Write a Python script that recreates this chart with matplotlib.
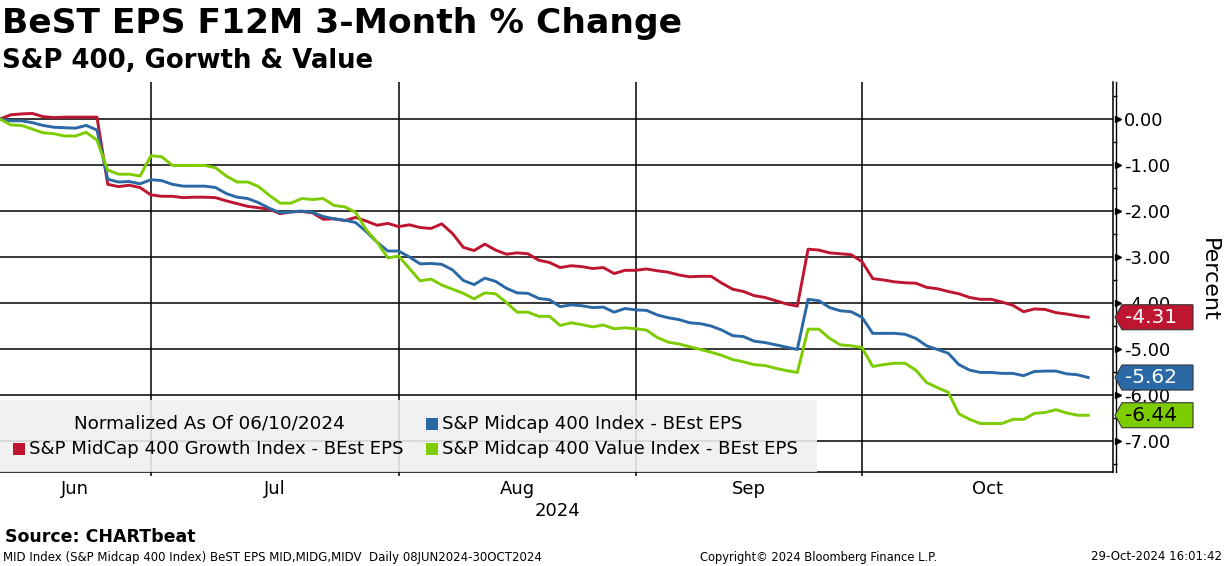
import numpy as np
import pandas as pd
import matplotlib
matplotlib.use("Agg")
import matplotlib.pyplot as plt
from matplotlib.patches import Polygon, Rectangle

plt.rcParams["font.family"] = ["DejaVu Sans"]
plt.rcParams["axes.unicode_minus"] = False

# weekdays 10 Jun 2024 .. 29 Oct 2024, normalised to 0 on 06/10/2024
dates = pd.bdate_range("2024-06-10", "2024-10-29")

growth = [0.00, 0.09, 0.11, 0.12, 0.05, 0.03, 0.04, 0.04, 0.04, 0.04,
          -1.42, -1.47, -1.44, -1.49, -1.65, -1.68, -1.68, -1.71, -1.70, -1.70,
          -1.71, -1.78, -1.84, -1.90, -1.93, -1.96, -2.06, -2.02, -2.01, -2.04,
          -2.18, -2.17, -2.21, -2.14, -2.22, -2.31, -2.27, -2.34, -2.30, -2.36,
          -2.38, -2.28, -2.49, -2.79, -2.86, -2.72, -2.85, -2.94, -2.91, -2.93,
          -3.07, -3.12, -3.23, -3.19, -3.21, -3.25, -3.23, -3.36, -3.29, -3.29,
          -3.26, -3.30, -3.33, -3.39, -3.43, -3.42, -3.42, -3.57, -3.70, -3.75,
          -3.84, -3.88, -3.95, -4.02, -4.07, -2.83, -2.85, -2.91, -2.93, -2.95,
          -3.10, -3.47, -3.50, -3.54, -3.56, -3.57, -3.66, -3.69, -3.75, -3.80,
          -3.88, -3.92, -3.92, -3.98, -4.05, -4.19, -4.13, -4.14, -4.21, -4.24,
          -4.28, -4.31]

midcap = [0.00, -0.04, -0.04, -0.08, -0.14, -0.18, -0.19, -0.20, -0.14, -0.24,
          -1.31, -1.37, -1.36, -1.41, -1.32, -1.34, -1.42, -1.46, -1.46, -1.46,
          -1.49, -1.62, -1.70, -1.73, -1.82, -1.94, -2.04, -2.02, -2.00, -2.03,
          -2.12, -2.17, -2.20, -2.25, -2.45, -2.68, -2.87, -2.87, -3.00, -3.15,
          -3.14, -3.16, -3.28, -3.51, -3.60, -3.46, -3.53, -3.68, -3.78, -3.79,
          -3.90, -3.93, -4.08, -4.04, -4.06, -4.10, -4.09, -4.20, -4.12, -4.15,
          -4.16, -4.26, -4.32, -4.36, -4.43, -4.45, -4.50, -4.59, -4.71, -4.73,
          -4.83, -4.86, -4.91, -4.96, -5.01, -3.92, -3.95, -4.10, -4.17, -4.19,
          -4.31, -4.66, -4.66, -4.66, -4.68, -4.77, -4.93, -5.01, -5.09, -5.34,
          -5.46, -5.51, -5.51, -5.53, -5.53, -5.58, -5.49, -5.48, -5.48, -5.54,
          -5.56, -5.62]

value = [0.00, -0.13, -0.14, -0.22, -0.30, -0.32, -0.37, -0.37, -0.29, -0.46,
         -1.11, -1.20, -1.20, -1.24, -0.80, -0.82, -1.01, -1.01, -1.01, -1.01,
         -1.06, -1.24, -1.37, -1.37, -1.47, -1.66, -1.83, -1.83, -1.73, -1.75,
         -1.73, -1.88, -1.91, -2.03, -2.41, -2.68, -3.02, -2.98, -3.25, -3.52,
         -3.48, -3.61, -3.70, -3.79, -3.91, -3.78, -3.80, -3.99, -4.20, -4.20,
         -4.29, -4.29, -4.49, -4.43, -4.47, -4.52, -4.48, -4.56, -4.54, -4.56,
         -4.59, -4.75, -4.85, -4.89, -4.95, -5.01, -5.07, -5.14, -5.23, -5.28,
         -5.34, -5.36, -5.42, -5.47, -5.51, -4.57, -4.57, -4.77, -4.91, -4.93,
         -4.97, -5.38, -5.34, -5.31, -5.31, -5.46, -5.73, -5.84, -5.94, -6.41,
         -6.53, -6.62, -6.62, -6.62, -6.53, -6.53, -6.40, -6.38, -6.32, -6.39,
         -6.44, -6.44]

series_names = ["S&P MidCap 400 Growth Index - BEst EPS",
                "S&P Midcap 400 Index - BEst EPS",
                "S&P Midcap 400 Value Index - BEst EPS"]
month_labels = ["Jun", "Jul", "Aug", "Sep", "Oct"]
y_ticks = [0, -1, -2, -3, -4, -5, -6, -7]

RED = "#BE1530"
BLUE = "#2B69A6"
GREEN = "#7DCC00"

W, H = 1224, 566


def fx(px):
    return px / W


def fy(py):
    return 1 - py / H


fig = plt.figure(figsize=(W / 100, H / 100), dpi=100)
ax = fig.add_axes([0, fy(472), 1113 / W, 390 / H])

x = np.arange(len(dates))
x_right = 103.3
ax.set_xlim(0, x_right)
ax.set_ylim(-7.674, 0.804)

for vals, col in [(growth, RED), (midcap, BLUE), (value, GREEN)]:
    ax.plot(x, vals, color=col, lw=2.1, zorder=3, solid_joinstyle="round")

# month boundaries = last weekday of each month
ends = [i for i in range(len(dates) - 1) if dates[i].month != dates[i + 1].month]
bounds = [0] + ends + [x_right]
centers = [(a + b) / 2 for a, b in zip(bounds[:-1], bounds[1:])]

ax.set_xticks(ends)
ax.set_xticklabels([])
ax.set_xticks(centers, minor=True)
ax.set_xticklabels(month_labels, minor=True)
ax.tick_params(axis="x", which="major", length=3, width=1.1, color="black")
ax.tick_params(axis="x", which="minor", length=0, pad=6, labelsize=13)
ax.xaxis.grid(True, which="major", color="black", lw=1.1)

ax.yaxis.tick_right()
ax.set_yticks(y_ticks)
ax.set_yticklabels([f"{v:.2f}" for v in y_ticks])
ax.set_yticks(np.arange(-7.5, 0.6, 1.0), minor=True)
ax.tick_params(axis="y", which="major", length=0, pad=8, labelsize=13)
ax.tick_params(axis="y", which="minor", length=3, width=1, color="black", direction="out")
ax.yaxis.grid(True, which="major", color="black", lw=1.1)
ax.set_axisbelow(True)

for side in ["left", "top"]:
    ax.spines[side].set_visible(False)
ax.spines["bottom"].set_linewidth(1.1)
ax.spines["right"].set_linewidth(1.1)
# second line of the doubled right axis and the arrow-style major ticks
ax.plot([1 + 2.5 / 1113] * 2, [0, 1], color="black", lw=1.0,
        transform=ax.transAxes, clip_on=False)
ax.plot([1 + 4.5 / 1113] * len(y_ticks), y_ticks, ls="none", marker=">", ms=4.5,
        color="black", transform=ax.get_yaxis_transform(), clip_on=False)

ax.set_ylabel("Percent", rotation=270, fontsize=16, va="center", ha="center")
ax.yaxis.set_label_coords(1209 / 1113, (472 - 280) / 390)

ax.text(557 / 1113, (472 - 511) / 390, "2024", transform=ax.transAxes,
        ha="center", va="center", fontsize=13)

# last-value tags
for vals, col, tcol in [(growth, RED, "white"), (midcap, BLUE, "white"), (value, GREEN, "black")]:
    yc = ax.transData.transform((0, vals[-1]))[1]
    pts = [(1115, yc), (1122, yc + 12.5), (1193, yc + 12.5), (1193, yc - 12.5), (1122, yc - 12.5)]
    fig.patches.append(Polygon([(a / W, b / H) for a, b in pts], closed=True,
                               transform=fig.transFigure, facecolor=col,
                               edgecolor="#333333", lw=0.8, zorder=5))
    fig.text(fx(1125), yc / H, f"{vals[-1]:.2f}", color=tcol, fontsize=14.5,
             ha="left", va="center", zorder=6)

# legend panel
fig.patches.append(Rectangle((fx(0), fy(472)), fx(817), 72 / H, transform=fig.transFigure,
                             facecolor="#f0f0f0", edgecolor="none", alpha=0.88, zorder=2))
fig.text(fx(209), fy(424), "Normalized As Of 06/10/2024", fontsize=13.2,
         ha="center", va="center", zorder=3)
for (sx, sy), name, col in [((426, 424), series_names[1], BLUE),
                            ((13, 449), series_names[0], RED),
                            ((426, 449), series_names[2], GREEN)]:
    fig.patches.append(Rectangle((fx(sx), fy(sy + 6)), 12 / W, 12 / H,
                                 transform=fig.transFigure, facecolor=col,
                                 edgecolor="none", zorder=3))
    fig.text(fx(sx + 16), fy(sy), name, fontsize=13.1, ha="left", va="center", zorder=3)

fig.text(fx(2), fy(23), "BeST EPS F12M 3-Month % Change", fontsize=24.8,
         fontweight="bold", ha="left", va="center")
fig.text(fx(2), fy(61), "S&P 400, Gorwth & Value", fontsize=18.7,
         fontweight="bold", ha="left", va="center")
fig.text(fx(5), fy(537), "Source: CHARTbeat", fontsize=12.5,
         fontweight="bold", ha="left", va="center")
fig.text(fx(3), fy(557), "MID Index (S&P Midcap 400 Index) BeST EPS MID,MIDG,MIDV  Daily 08JUN2024-30OCT2024",
         fontsize=8.5, ha="left", va="center")
fig.text(fx(818), fy(557), "Copyright\u00a9 2024 Bloomberg Finance L.P.",
         fontsize=8.3, ha="center", va="center")
fig.text(fx(1222), fy(557), "29-Oct-2024 16:01:42", fontsize=8.5, ha="right", va="center")

fig.savefig("out.png", dpi=100)
